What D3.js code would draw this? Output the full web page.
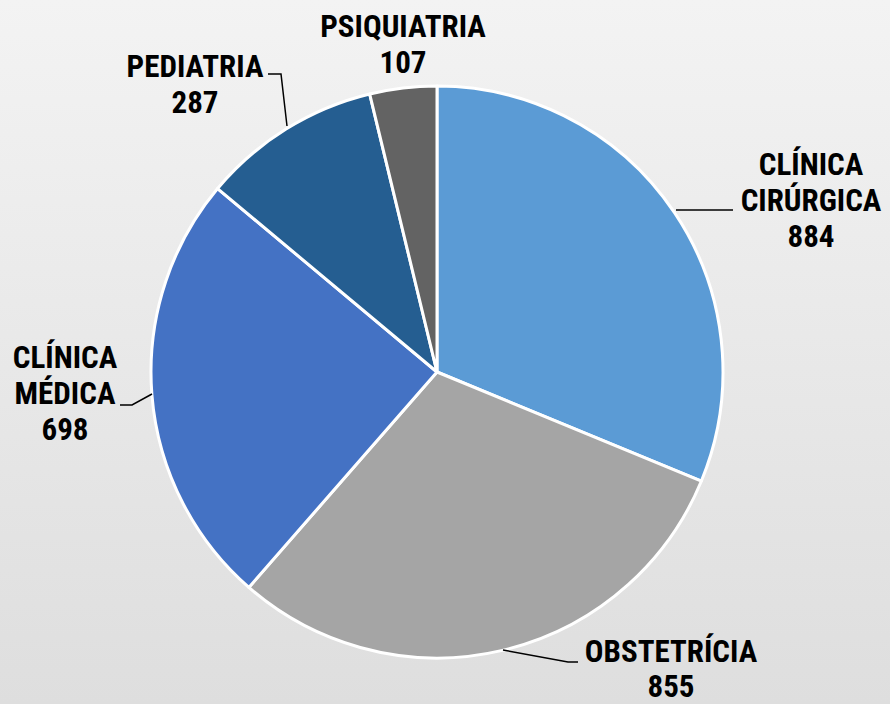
<!DOCTYPE html>
<html>
<head>
<meta charset="utf-8">
<script src="https://cdn.jsdelivr.net/npm/d3@7"></script>
<style>
  body { margin: 0; }
  svg { display: block; }
  text { font-family: "Liberation Sans Narrow", "Arial Narrow", "Roboto Condensed", sans-serif; font-weight: bold; }
</style>
</head>
<body>
<svg width="890" height="704"></svg>
<script>
const categories = ["CLÍNICA CIRÚRGICA", "OBSTETRÍCIA", "CLÍNICA MÉDICA", "PEDIATRIA", "PSIQUIATRIA"];
const values = [884, 855, 698, 287, 107];
const colors = ["#5b9bd5", "#a5a5a5", "#4472c4", "#255e91", "#636363"];

// label lines, position of first baseline, leader points
const labelLines = [
  ["CLÍNICA", "CIRÚRGICA", "884"],
  ["OBSTETRÍCIA", "855"],
  ["CLÍNICA", "MÉDICA", "698"],
  ["PEDIATRIA", "287"],
  ["PSIQUIATRIA", "107"]
];
const labelPos = [[811, 175], [671, 662], [65, 368], [195, 77], [403, 37]];
const leaders = [
  [[676, 210], [733, 210]],
  [[503, 650], [568, 662], [578, 662]],
  [[152, 394], [132, 405], [120, 405]],
  [[287, 126], [281, 74], [268, 74]],
  null
];

const width = 890, height = 704;
const cx = 437, cy = 372, radius = 286;
const lineH = 36;

const svg = d3.select("svg");

const defs = svg.append("defs");
const grad = defs.append("linearGradient")
  .attr("id", "bg").attr("x1", 0).attr("y1", 0).attr("x2", 0).attr("y2", 1);
grad.append("stop").attr("offset", "0%").attr("stop-color", "#f3f3f3");
grad.append("stop").attr("offset", "100%").attr("stop-color", "#dedede");

svg.append("rect")
  .attr("width", width).attr("height", height)
  .attr("fill", "url(#bg)");

const data = categories.map((c, i) => ({cat: c, value: values[i], i: i}));

const pie = d3.pie().sort(null).value(d => d.value);
const arc = d3.arc().innerRadius(0).outerRadius(radius);

const g = svg.append("g").attr("transform", `translate(${cx},${cy})`);

g.selectAll("path")
  .data(pie(data))
  .join("path")
  .attr("d", arc)
  .attr("fill", d => colors[d.data.i])
  .attr("stroke", "#fff")
  .attr("stroke-width", 3)
  .attr("stroke-linejoin", "round");

// leader lines
svg.append("g")
  .selectAll("path")
  .data(leaders.filter(l => l))
  .join("path")
  .attr("d", d => d3.line()(d))
  .attr("fill", "none")
  .attr("stroke", "#000")
  .attr("stroke-width", 1.5);

// labels
const labels = svg.append("g")
  .selectAll("text")
  .data(data)
  .join("text")
  .attr("text-anchor", "middle")
  .attr("font-size", 31)
  .attr("fill", "#000");

labels.each(function(d) {
  const t = d3.select(this);
  const [x, y] = labelPos[d.i];
  const lh = d.i === 1 ? 35 : lineH;
  labelLines[d.i].forEach((s, k) => {
    t.append("tspan").attr("x", x).attr("y", y + k * lh).text(s);
  });
});
</script>
</body>
</html>
